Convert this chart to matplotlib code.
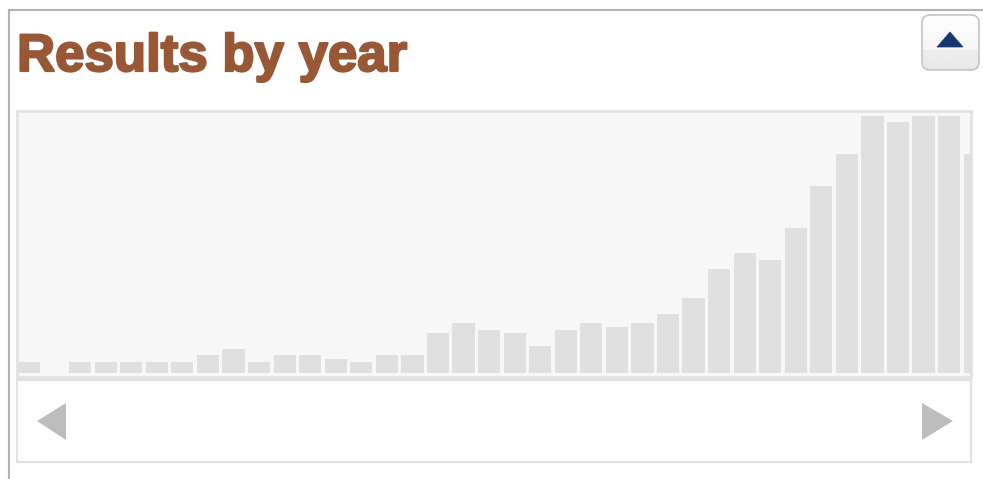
import numpy as np
import matplotlib
matplotlib.use("Agg")
import matplotlib.pyplot as plt
import matplotlib.patheffects as pe
from matplotlib.patches import Polygon, FancyBboxPatch

# canvas size in pixels (figure is drawn at dpi=100)
W, H = 983, 479

# results per year (no axis labels in the widget)
years = list(range(1975, 2013))
counts = [11, 0, 11, 11, 11, 11, 11, 18, 24, 11,
          18, 18, 14, 11, 18, 18, 40, 50, 43, 40,
          27, 43, 50, 46, 50, 59, 75, 104, 120, 113,
          145, 187, 219, 257, 251, 257, 257, 219]

title_text = "Results by year"

BAR_COLOR = "#e0e0e0"
PANEL_BG = "#f7f7f7"
BORDER = "#e2e2e2"
TITLE_COLOR = "#985735"

fig = plt.figure(figsize=(W / 100, H / 100), dpi=100)
fig.patch.set_facecolor("white")

# background layer in pixel coordinates for the widget chrome
bg = fig.add_axes([0, 0, 1, 1], zorder=0)
bg.axis("off")

# outer frame (left + top edges)
bg.plot([8.5, 8.5, W], [H, 10, 10], color="#b3b3b3", lw=1.5, solid_joinstyle="miter")

bg.text(17, 71, title_text, fontsize=38, fontweight="bold", color=TITLE_COLOR,
        family=["Liberation Sans", "DejaVu Sans"], va="baseline", ha="left",
        path_effects=[pe.withStroke(linewidth=1.6, foreground=TITLE_COLOR)])

# collapse button with a soft vertical gradient
btn = FancyBboxPatch((922, 15), 57, 55, boxstyle="round,pad=0,rounding_size=8",
                     fc="none", ec="#c4c4c4", lw=1.2, zorder=3)
bg.add_patch(btn)
shade = np.concatenate([np.linspace(0.995, 0.965, 35), np.linspace(0.93, 0.91, 20)])
grad = np.repeat(shade[:, None], 2, axis=1)
im = bg.imshow(grad, cmap="gray", vmin=0, vmax=1, extent=[922, 979, 70, 15],
               aspect="auto", origin="upper", zorder=2)
im.set_clip_path(btn)
bg.add_patch(Polygon([[937, 47], [963, 47], [950, 32]], closed=True,
                     fc="#17386f", ec="#17386f", lw=0.5, zorder=4))
bg.set_xlim(0, W)
bg.set_ylim(H, 0)

# bar panel
left, right, top, bottom = 17, 971, 111, 377
pitch, first_left, baseline = 25.56, 17.9, 372.5
ax = fig.add_axes([left / W, 1 - bottom / H, (right - left) / W, (bottom - top) / H], zorder=1)
ax.set_facecolor(PANEL_BG)
x = np.arange(len(counts))
ax.bar(x, counts, width=0.87, align="edge", color=BAR_COLOR, edgecolor="none")
ax.set_xlim((left - first_left) / pitch, (right - first_left) / pitch)
ax.set_ylim(-(bottom - baseline), baseline - top)
ax.set_xticks([])
ax.set_yticks([])
for sp in ax.spines.values():
    sp.set_color(BORDER)
    sp.set_linewidth(2)

# scroller strip below the bars
s_top, s_bottom = 380, 462
sl = fig.add_axes([left / W, 1 - s_bottom / H, (right - left) / W, (s_bottom - s_top) / H], zorder=1)
sl.set_facecolor("white")
sl.set_xlim(left, right)
sl.set_ylim(s_bottom, s_top)
sl.set_xticks([])
sl.set_yticks([])
for sp in sl.spines.values():
    sp.set_color(BORDER)
    sp.set_linewidth(1.5)
sl.add_patch(Polygon([[37, 421], [66, 403], [66, 440]], closed=True, fc="#bdbdbd", ec="none"))
sl.add_patch(Polygon([[953, 421], [922, 403], [922, 440]], closed=True, fc="#bdbdbd", ec="none"))

fig.savefig("out.png", dpi=100)
